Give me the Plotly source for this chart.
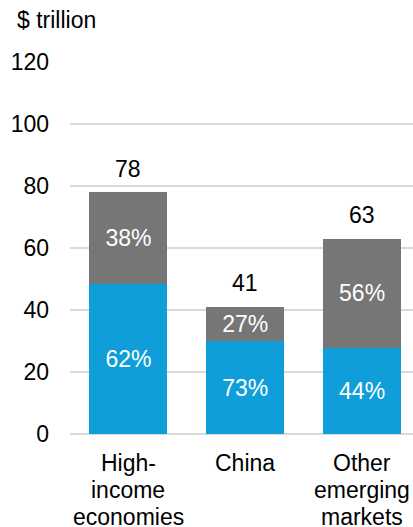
import plotly.graph_objects as go

# Categories and values
categories = ["High-income economies", "China", "Other emerging markets"]
category_lines = [["High-", "income", "economies"], ["China"], ["Other", "emerging", "markets"]]
totals = [78, 41, 63]
share_blue = [62, 73, 44]   # percent, lower segment
share_gray = [38, 27, 56]   # percent, upper segment

blue_vals = [t * s / 100 for t, s in zip(totals, share_blue)]
gray_vals = [t * s / 100 for t, s in zip(totals, share_gray)]

FONT = "Liberation Sans, Arial, sans-serif"
BLUE = "#0f9ed9"
GRAY = "#767676"
SIZE = 23

fig = go.Figure()
fig.add_trace(go.Bar(
    x=categories, y=blue_vals, marker=dict(color=BLUE, line=dict(width=0)),
    text=[f"{s}%" for s in share_blue], textposition="inside",
    insidetextanchor="middle", constraintext="none",
    textfont=dict(color="white", size=SIZE, family=FONT),
    hoverinfo="skip",
))
fig.add_trace(go.Bar(
    x=categories, y=gray_vals, marker=dict(color=GRAY, line=dict(width=0)),
    text=[f"{s}%" for s in share_gray], textposition="inside",
    insidetextanchor="middle", constraintext="none",
    textfont=dict(color="white", size=SIZE, family=FONT),
    hoverinfo="skip",
))

# Totals above each stack
for c, t in zip(categories, totals):
    fig.add_annotation(x=c, y=t, text=str(t), showarrow=False,
                       yanchor="bottom", yshift=8.5,
                       font=dict(size=SIZE, color="black", family=FONT))

# Category labels below the axis, one annotation per line for tight spacing
for c, lines in zip(categories, category_lines):
    for i, line in enumerate(lines):
        fig.add_annotation(x=c, y=0, text=line, showarrow=False,
                           yanchor="middle", yshift=-(28.5 + 27 * i),
                           borderpad=0,
                           font=dict(size=SIZE, color="black", family=FONT))

# Unit label
fig.add_annotation(xref="paper", yref="paper", x=-0.1616, y=1.113,
                   xanchor="left", yanchor="middle", text="$ trillion",
                   showarrow=False, font=dict(size=SIZE, color="black", family=FONT))

fig.update_layout(
    barmode="stack",
    bargap=1/3,
    width=413, height=527,
    margin=dict(l=69.5, r=0, t=62, b=93, pad=0, autoexpand=False),
    plot_bgcolor="white", paper_bgcolor="white",
    showlegend=False,
    font=dict(family=FONT, size=SIZE, color="black"),
    xaxis=dict(range=[-0.5, 2.436], showgrid=False, showline=False,
               ticks="", showticklabels=False,
               automargin=False, fixedrange=True),
    yaxis=dict(range=[0, 120], tickvals=[0, 20, 40, 60, 80, 100, 120],
               showgrid=True, gridcolor="#d9d9d9", gridwidth=1.5,
               zeroline=True, zerolinecolor="#d9d9d9", zerolinewidth=1.5,
               showline=False, ticks="", tickfont=dict(size=SIZE),
               ticklabelstandoff=20, automargin=False, fixedrange=True),
)

fig.write_html("out.html")
